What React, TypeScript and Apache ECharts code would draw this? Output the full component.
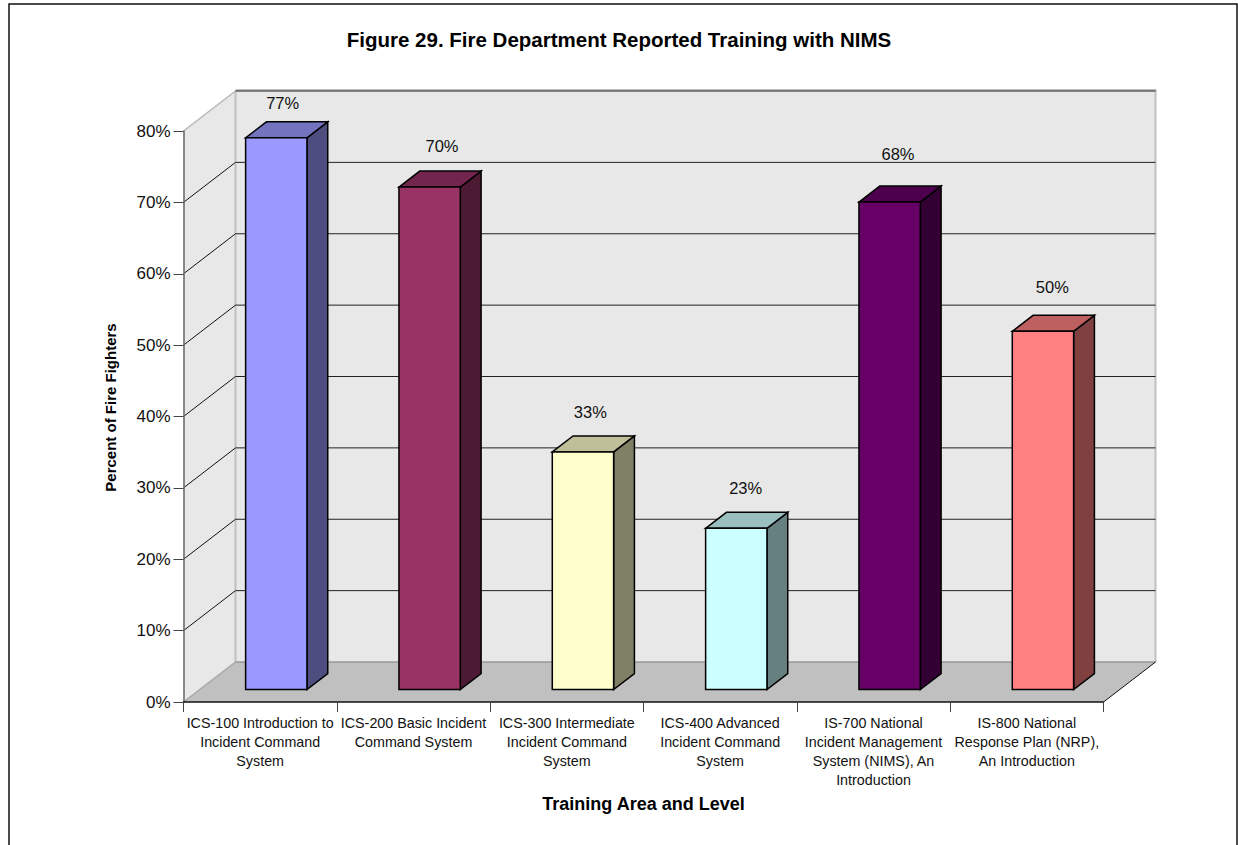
import React, { useEffect, useRef } from "react";
import * as echarts from "echarts";

const categories = [
  "ICS-100 Introduction to\nIncident Command\nSystem",
  "ICS-200 Basic Incident\nCommand System",
  "ICS-300 Intermediate\nIncident Command\nSystem",
  "ICS-400 Advanced\nIncident Command\nSystem",
  "IS-700 National\nIncident Management\nSystem (NIMS), An\nIntroduction",
  "IS-800 National\nResponse Plan (NRP),\nAn Introduction",
];
const values = [77.3, 70.4, 33.3, 22.6, 68.3, 50.2];
const valueTicks = [0, 10, 20, 30, 40, 50, 60, 70, 80];
const frontColors = ["#9999FF", "#993366", "#FFFFCC", "#CCFFFF", "#660066", "#FF8080"];
const topColors = ["#7373BF", "#73264D", "#BFBF99", "#99BFBF", "#4D004D", "#BF6060"];
const sideColors = ["#4D4D80", "#4D1A33", "#808066", "#668080", "#330033", "#804040"];

const FONT = "'Liberation Sans', Arial, sans-serif";
const DX = 52;
const DY = -40;
const GAP = 0.31;
const DEPTH = 0.4;
const BAR = 0.4;
const LABEL_NUDGE_X = [0, 6, 1, 3, 2, 3];
const LABEL_NUDGE_Y = [6, 0, 1, 1, -7, -3];

const poly = (points: number[][], fill: string, stroke = "none", lineWidth = 0) => ({
  type: "polygon",
  shape: { points },
  style: { fill, stroke, lineWidth },
});
const seg = (a: number[], b: number[], stroke: string, lineWidth = 1) => ({
  type: "line",
  shape: { x1: a[0], y1: a[1], x2: b[0], y2: b[1] },
  style: { stroke, lineWidth },
});

export default function App() {
  const ref = useRef<HTMLDivElement>(null);
  useEffect(() => {
    const chart = echarts.init(ref.current!, undefined, { renderer: "svg" });
    const n = categories.length;
    chart.setOption({
      animation: false,
      backgroundColor: "#ffffff",
      title: {
        text: "Figure 29. Fire Department Reported Training with NIMS",
        left: "center",
        top: 24,
        textStyle: { fontFamily: FONT, fontSize: 20.5, fontWeight: "bold", color: "#000" },
      },
      graphic: [
        {
          type: "rect",
          z: -10,
          shape: { x: 9, y: 4, width: 1228, height: 860 },
          style: { fill: "#fff", stroke: "#111", lineWidth: 1.5 },
        },
      ],
      grid: { left: 183.5, top: 131, width: 920, height: 571, containLabel: false },
      xAxis: {
        type: "category",
        data: categories,
        z: 6,
        axisLine: { show: true, lineStyle: { color: "#111", width: 1.5 } },
        axisTick: { show: true, length: 10, alignWithLabel: false, lineStyle: { color: "#444", width: 1 } },
        axisLabel: {
          interval: 0,
          margin: 11,
          fontFamily: FONT,
          fontSize: 14.3,
          lineHeight: 19,
          color: "#111",
        },
        name: "Training Area and Level",
        nameLocation: "middle",
        nameGap: 93,
        nameTextStyle: { fontFamily: FONT, fontSize: 18, fontWeight: "bold", color: "#000" },
      },
      yAxis: {
        type: "value",
        min: 0,
        max: 80,
        interval: 10,
        z: 6,
        splitLine: { show: false },
        axisLine: { show: true, lineStyle: { color: "#666", width: 1.5 } },
        axisTick: { show: true, length: 10, lineStyle: { color: "#444", width: 1 } },
        axisLabel: {
          margin: 13,
          formatter: "{value}%",
          fontFamily: FONT,
          fontSize: 17,
          color: "#111",
        },
        name: "Percent of Fire Fighters",
        nameLocation: "middle",
        nameGap: 66,
        nameRotate: 90,
        nameTextStyle: { fontFamily: FONT, fontSize: 15, fontWeight: "bold", color: "#000", padding: [0, 0, 0, 18] },
      },
      series: [
        {
          type: "custom",
          z: 2,
          silent: true,
          coordinateSystem: "cartesian2d",
          data: valueTicks.map((v) => [0, v]),
          renderItem: (_p: any, api: any) => {
            const v = api.value(1);
            const band = api.size([1, 0])[0];
            const top = api.coord([0, 80]);
            const bot = api.coord([0, 0]);
            const L = top[0] - band / 2;
            const R = L + band * n;
            const yv = api.coord([0, v])[1];
            const children: any[] = [];
            if (v === 0) {
              children.push(
                poly([[L, top[1]], [L + DX, top[1] + DY], [L + DX, bot[1] + DY], [L, bot[1]]], "#E8E8E8"),
                poly([[L + DX, top[1] + DY], [R + DX, top[1] + DY], [R + DX, bot[1] + DY], [L + DX, bot[1] + DY]], "#E8E8E8"),
                poly([[L, bot[1]], [L + DX, bot[1] + DY], [R + DX, bot[1] + DY], [R, bot[1]]], "#C0C0C0"),
                seg([L + DX, top[1] + DY - 1], [R + DX + 1, top[1] + DY - 1], "#C0C0C0", 2),
                seg([L + DX, top[1] + DY], [L + DX, bot[1] + DY], "#C0C0C0", 2),
                seg([R + DX, top[1] + DY - 1], [R + DX, bot[1] + DY], "#C0C0C0", 2),
                seg([L, top[1]], [L + DX, top[1] + DY], "#B8B8B8", 1.5),
                seg([L, bot[1]], [L + DX, bot[1] + DY], "#A8A8A8", 1.5),
                seg([L + DX, bot[1] + DY], [R + DX, bot[1] + DY], "#999999", 1.5),
                seg([R, bot[1]], [R + DX, bot[1] + DY], "#111", 1)
              );
            } else {
              children.push(seg([L + DX, yv + DY], [R + DX, yv + DY], "#222", 1));
              if (v < 80) children.push(seg([L, yv], [L + DX, yv + DY], "#111", 1));
            }
            return { type: "group", children };
          },
        },
        {
          type: "custom",
          z: 3,
          silent: true,
          coordinateSystem: "cartesian2d",
          encode: { x: 0, y: 1 },
          data: values.map((v, i) => [i, v]),
          renderItem: (_p: any, api: any) => {
            const i = api.value(0);
            const v = api.value(1);
            const band = api.size([1, 0])[0];
            const c = api.coord([i, v]);
            const b = api.coord([i, 0]);
            const w = band * BAR;
            const gx = DX * GAP;
            const gy = DY * GAP;
            const dx = DX * DEPTH;
            const dy = DY * DEPTH;
            const x0 = c[0] - w / 2 + gx;
            const x1 = x0 + w;
            const yt = c[1] + gy;
            const yb = b[1] + gy;
            const stroke = "#000";
            const lw = 1.5;
            return {
              type: "group",
              children: [
                poly([[x1, yt], [x1 + dx, yt + dy], [x1 + dx, yb + dy], [x1, yb]], sideColors[i], stroke, lw),
                poly([[x0, yt], [x0 + dx, yt + dy], [x1 + dx, yt + dy], [x1, yt]], topColors[i], stroke, lw),
                poly([[x0, yt], [x1, yt], [x1, yb], [x0, yb]], frontColors[i], stroke, lw),
                {
                  type: "text",
                  style: {
                    x: c[0] + gx + dx / 2 - 4 + LABEL_NUDGE_X[i],
                    y: yt - 41 + LABEL_NUDGE_Y[i],
                    text: `${Math.round(v)}%`,
                    fill: "#111",
                    fontFamily: FONT,
                    fontSize: 16.5,
                    align: "center",
                    verticalAlign: "middle",
                  },
                },
              ],
            };
          },
        },
      ],
    });
    return () => chart.dispose();
  }, []);
  return (
    <div
      ref={ref}
      style={{ position: "absolute", left: 0, top: 0, width: 1238, height: 845 }}
    />
  );
}
